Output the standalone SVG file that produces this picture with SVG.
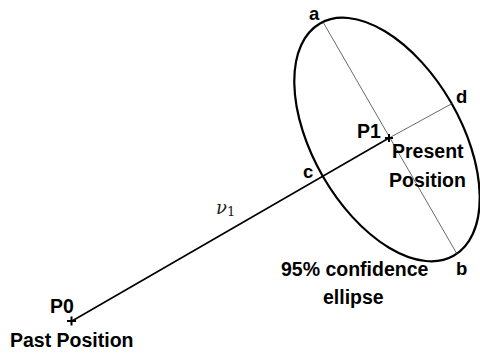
<svg xmlns="http://www.w3.org/2000/svg" width="480" height="354" viewBox="0 0 480 354">
<style>
.lbl{font-family:"Liberation Sans",Arial,sans-serif;font-weight:bold;font-size:19.5px;fill:#000}
.pt{font-family:"Liberation Sans",Arial,sans-serif;font-weight:bold;font-size:18.5px;fill:#000}
.ax{stroke:#444;stroke-width:0.8;fill:none}
.cross{stroke:#000;stroke-width:2;fill:none}
</style>
<rect width="480" height="354" fill="#fff"/>
<g id="ellipse">
<ellipse cx="387" cy="139.5" rx="134" ry="74" transform="rotate(60 387 139.5)" fill="none" stroke="#000" stroke-width="2.2"/>
<line class="ax" x1="323" y1="22" x2="457" y2="254"/>
<line class="ax" x1="389" y1="138" x2="453" y2="103"/>
<text class="pt" x="309" y="20">a</text>
<text class="pt" x="456" y="275">b</text>
<text class="pt" x="303" y="178">c</text>
<text class="pt" x="456" y="103">d</text>
<text class="lbl" x="281" y="276">95% confidence</text>
<text class="lbl" x="323" y="304">ellipse</text>
</g>
<g id="connectors">
<line x1="72" y1="321" x2="389" y2="138" stroke="#000" stroke-width="1.6"/>
<text x="216" y="214" font-family="'DejaVu Serif','Liberation Serif',serif" font-style="italic" font-size="18" fill="#222">ν<tspan font-style="normal" font-size="13" dy="2">1</tspan></text>
</g>
<g id="P1">
<path class="cross" d="M385 138h8M389 134v8"/>
<text class="lbl" x="357" y="138">P1</text>
<text class="lbl" x="392" y="158">Present</text>
<text class="lbl" x="389" y="187">Position</text>
</g>
<g id="P0">
<path class="cross" d="M67 321h9M71.5 316.5v9"/>
<text class="lbl" x="50" y="313">P0</text>
<text class="lbl" x="10" y="347">Past Position</text>
</g>
</svg>
